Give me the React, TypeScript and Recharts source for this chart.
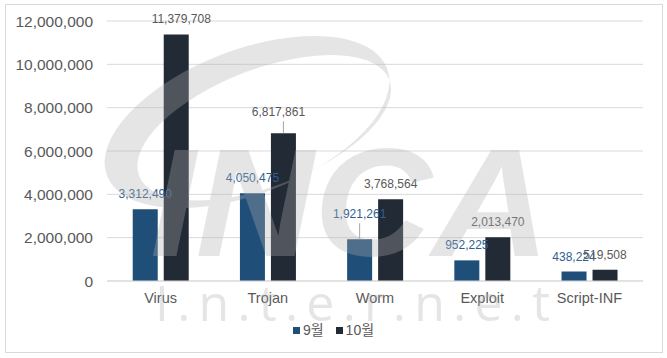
import React from "react"
import { BarChart, Bar, XAxis, YAxis, CartesianGrid } from "recharts"

// 악성코드 유형별 탐지 건수 (9월 / 10월)
const categories = ["Virus", "Trojan", "Worm", "Exploit", "Script-INF"]
const september = [3312490, 4050475, 1921261, 952225, 438224]
const october = [11379708, 6817861, 3768564, 2013470, 519508]
const yTicks = [0, 2000000, 4000000, 6000000, 8000000, 10000000, 12000000]

const data = categories.map((name, i) => ({
  name,
  sep: september[i],
  oct: october[i],
}))

// label nudges (leader-line lift, horizontal shift) per bar
const sepLabelAdjust = [
  { lift: 0, dx: 0 },
  { lift: 0, dx: 0 },
  { lift: 10, dx: 0 },
  { lift: 0, dx: 0 },
  { lift: 0, dx: 0 },
]
const octLabelAdjust = [
  { lift: 0, dx: 5 },
  { lift: 6, dx: -5 },
  { lift: 0, dx: 0 },
  { lift: 0, dx: 0 },
  { lift: 0, dx: 0 },
]

const FONT = "'Liberation Sans', Arial, 'Noto Sans CJK KR', sans-serif"
const fmt = (v: number) => v.toLocaleString("en-US")

const makeLabel = (color: string, adjust: { lift: number; dx: number }[]) => (props: any) => {
  const { x, y, width, value, index } = props
  const a = adjust[index] || { lift: 0, dx: 0 }
  const cx = Number(x) + Number(width) / 2
  const ly = Number(y) - 15 - a.lift
  return (
    <g>
      {a.lift > 0 && (
        <line x1={cx} x2={cx} y1={Number(y)} y2={ly + 9} stroke="#a6a6a6" strokeWidth={1} />
      )}
      <text
        x={cx + a.dx}
        y={ly}
        textAnchor="middle"
        dominantBaseline="central"
        fontSize={12}
        fontFamily={FONT}
        fill={color}
      >
        {fmt(Number(value))}
      </text>
    </g>
  )
}

function Watermark() {
  return (
    <svg
      width={667}
      height={358}
      style={{ position: "absolute", left: 0, top: 0, pointerEvents: "none" }}
    >
      <g fill="#b1b1b1" opacity={0.32}>
        <g transform="translate(247,122) rotate(-21)">
          <path
            fillRule="evenodd"
            d="M -150 0 A 150 72 0 1 0 150 0 A 150 72 0 1 0 -150 0 Z M -120 11.5 A 134 58.5 0 1 1 148 11.5 A 134 58.5 0 1 1 -120 11.5 Z"
          />
        </g>
        <text
          x={150}
          y={256}
          fontSize={154}
          fontWeight="bold"
          fontStyle="italic"
          fontFamily="'Liberation Sans', Arial, sans-serif"
          textLength={400}
          lengthAdjust="spacingAndGlyphs"
        >
          INCA
        </text>
        <text
          x={155}
          y={321}
          fontSize={50}
          fontFamily="'Open Sans', 'Liberation Sans', sans-serif"
          textLength={395}
          lengthAdjust="spacing"
        >
          I.n.t.e.r.n.e.t
        </text>
      </g>
    </svg>
  )
}

export default function App() {
  return (
    <div
      style={{
        position: "absolute",
        left: 0,
        top: 0,
        width: 667,
        height: 358,
        background: "#fff",
        fontFamily: FONT,
      }}
    >
      <div
        style={{
          position: "absolute",
          left: 5,
          top: 4,
          width: 658,
          height: 349,
          border: "1px solid #d9d9d9",
          boxSizing: "border-box",
        }}
      />
      <BarChart
        width={667}
        height={358}
        data={data}
        margin={{ top: 21, right: 24, bottom: 0, left: 0 }}
        barCategoryGap="24%"
        barGap={6}
      >
        <CartesianGrid vertical={false} stroke="#d9d9d9" />
        <XAxis
          dataKey="name"
          height={77}
          axisLine={{ stroke: "#d9d9d9" }}
          tickLine={false}
          tickSize={0}
          tickMargin={12}
          tick={{ fill: "#595959", fontSize: 14.5, fontFamily: FONT }}
        />
        <YAxis
          width={107}
          domain={[0, 12000000]}
          ticks={yTicks}
          axisLine={false}
          tickLine={false}
          tickSize={0}
          tickMargin={14}
          tickFormatter={fmt}
          tick={{ fill: "#595959", fontSize: 15.5, fontFamily: FONT }}
        />
        <Bar
          dataKey="sep"
          name="9월"
          fill="#1f4e79"
          isAnimationActive={false}
          label={makeLabel("#2f5f8f", sepLabelAdjust)}
        />
        <Bar
          dataKey="oct"
          name="10월"
          fill="#222a35"
          isAnimationActive={false}
          label={makeLabel("#595959", octLabelAdjust)}
        />
      </BarChart>
      <div
        style={{
          position: "absolute",
          left: 0,
          top: 320,
          width: 667,
          display: "flex",
          justifyContent: "center",
          alignItems: "center",
          fontSize: 14,
          color: "#595959",
          lineHeight: "20px",
        }}
      >
        {[
          { name: "9월", color: "#1f4e79" },
          { name: "10월", color: "#222a35" },
        ].map((item, i) => (
          <div
            key={item.name}
            style={{ display: "flex", alignItems: "center", marginLeft: i === 0 ? 0 : 12 }}
          >
            <span
              style={{ width: 7, height: 7, background: item.color, display: "inline-block", marginRight: 3 }}
            />
            <span>{item.name}</span>
          </div>
        ))}
      </div>
      <Watermark />
    </div>
  )
}
